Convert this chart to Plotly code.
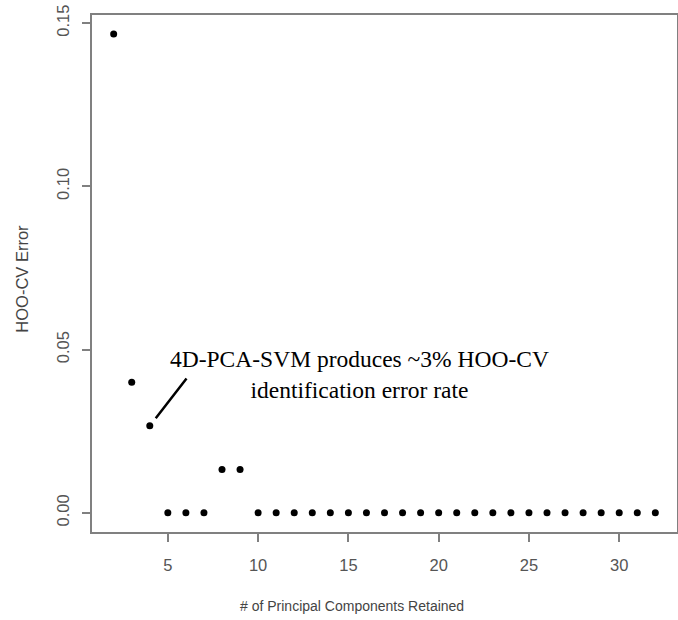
import plotly.graph_objects as go

components = list(range(2, 33))
hoo_cv_error = [0.1467, 0.04, 0.0267, 0, 0, 0, 0.0133, 0.0133] + [0] * 23
x_ticks = [5, 10, 15, 20, 25, 30]
y_ticks = [0.0, 0.05, 0.10, 0.15]
y_tick_labels = ["0.00", "0.05", "0.10", "0.15"]

note_text = "4D-PCA-SVM produces ~3% HOO-CV<br>identification error rate"
note_pos = (15.6, 0.0425)
arrow_head = (4.33, 0.029)
arrow_tail = (6.1, 0.0416)

axis_col = "#808080"
tick_font = dict(family="Liberation Sans, Arial", size=16.5, color="#555555")

fig = go.Figure()
fig.add_trace(go.Scatter(
    x=components, y=hoo_cv_error, mode="markers",
    marker=dict(color="black", size=7), showlegend=False,
))

fig.add_annotation(
    x=arrow_head[0], y=arrow_head[1], ax=arrow_tail[0], ay=arrow_tail[1],
    xref="x", yref="y", axref="x", ayref="y",
    text="", showarrow=True, arrowhead=0, arrowwidth=2.5, arrowcolor="black",
    standoff=0, startstandoff=0,
)
fig.add_annotation(
    x=note_pos[0], y=note_pos[1], xref="x", yref="y",
    text=note_text, showarrow=False, align="center",
    font=dict(family="Liberation Serif, Times New Roman", size=23.5, color="black"),
)
fig.add_annotation(
    x=0.444, y=0, xref="paper", yref="paper", yshift=-74, yanchor="middle",
    text="# of Principal Components Retained", showarrow=False,
    font=dict(family="Liberation Sans, Arial", size=14, color="#444444"),
)
fig.add_annotation(
    x=0, y=0.49, xref="paper", yref="paper", xshift=-70, xanchor="center",
    text="HOO-CV Error", showarrow=False, textangle=-90,
    font=dict(family="Liberation Sans, Arial", size=16.5, color="#444444"),
)

fig.update_layout(
    width=678, height=620,
    margin=dict(l=92, r=1, t=15, b=88, autoexpand=False),
    plot_bgcolor="white", paper_bgcolor="white",
)
fig.update_xaxes(
    range=[0.8, 33.2], tickvals=x_ticks, ticks="outside", ticklen=8,
    tickwidth=2, tickcolor=axis_col, showline=True, linecolor=axis_col,
    linewidth=2, mirror=True, showgrid=False, zeroline=False,
    tickfont=tick_font, ticklabelstandoff=9, automargin=False,
    ticklabeloverflow="allow",
)
fig.update_yaxes(
    range=[-0.00587, 0.1525], tickvals=y_ticks, ticktext=y_tick_labels,
    tickangle=-90, ticks="outside", ticklen=8, tickwidth=2, tickcolor=axis_col,
    showline=True, linecolor=axis_col, linewidth=2, mirror=True,
    showgrid=False, zeroline=False, tickfont=tick_font, ticklabelstandoff=6,
    automargin=False, ticklabeloverflow="allow",
)

fig.write_html(
    "out.html",
    config={"displayModeBar": False},
    post_script="document.body.style.margin='0';document.body.style.overflow='hidden';",
)
